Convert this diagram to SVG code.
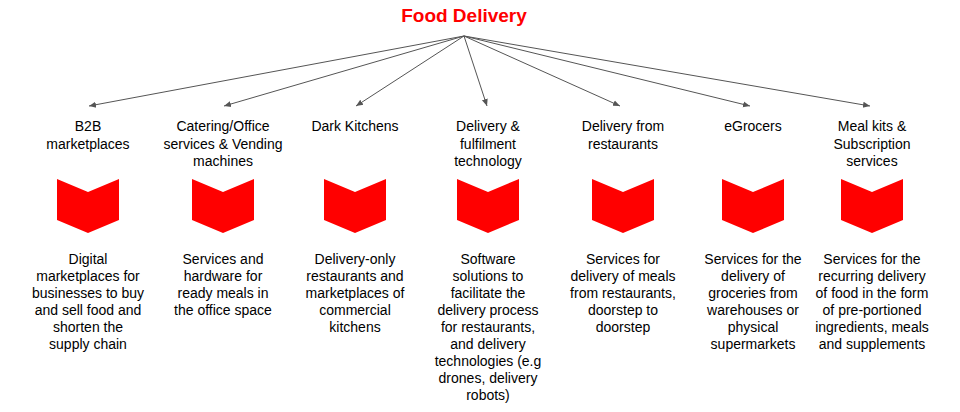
<svg xmlns="http://www.w3.org/2000/svg" width="960" height="412" viewBox="0 0 960 412">
<defs>
<style>
text{font-family:"Liberation Sans",Arial,sans-serif;font-size:14px;fill:#000;text-anchor:middle}
.t{font-size:19px;font-weight:bold;fill:#f00}
.c line{stroke:#555;stroke-width:1}
.v{fill:#f00}
</style>
<marker id="a" markerWidth="8" markerHeight="8" refX="7" refY="4" orient="auto" markerUnits="userSpaceOnUse"><path d="M0,1 L7,4 L0,7 Z" fill="#555"/></marker>
<path id="ch" d="M-31,0 L0,13 L31,0 L31,41 L0,54 L-31,41 Z"/>
</defs>
<text class="t" x="464" y="22">Food Delivery</text>
<g class="c" marker-end="url(#a)">
<line x1="464" y1="36" x2="89" y2="106" marker-end="url(#a)"/>
<line x1="464" y1="36" x2="224" y2="106" marker-end="url(#a)"/>
<line x1="464" y1="36" x2="356" y2="106" marker-end="url(#a)"/>
<line x1="464" y1="36" x2="487" y2="106" marker-end="url(#a)"/>
<line x1="464" y1="36" x2="620" y2="106" marker-end="url(#a)"/>
<line x1="464" y1="36" x2="750" y2="106" marker-end="url(#a)"/>
<line x1="464" y1="36" x2="870" y2="106" marker-end="url(#a)"/>
</g>
<g id="n1"><text x="88" y="131">B2B<tspan x="88" dy="17.5">marketplaces</tspan></text><use href="#ch" x="88" y="179" class="v"/>
<text x="88" y="264">Digital<tspan x="88" dy="17">marketplaces for</tspan><tspan x="88" dy="17">businesses to buy</tspan><tspan x="88" dy="17">and sell food and</tspan><tspan x="88" dy="17">shorten the</tspan><tspan x="88" dy="17">supply chain</tspan></text></g>
<g id="n2"><text x="223" y="131">Catering/Office<tspan x="223" dy="17.5">services &amp; Vending</tspan><tspan x="223" dy="17.5">machines</tspan></text><use href="#ch" x="223" y="179" class="v"/>
<text x="223" y="264">Services and<tspan x="223" dy="17">hardware for</tspan><tspan x="223" dy="17">ready meals in</tspan><tspan x="223" dy="17">the office space</tspan></text></g>
<g id="n3"><text x="355" y="131">Dark Kitchens</text><use href="#ch" x="355" y="179" class="v"/>
<text x="355" y="264">Delivery-only<tspan x="355" dy="17">restaurants and</tspan><tspan x="355" dy="17">marketplaces of</tspan><tspan x="355" dy="17">commercial</tspan><tspan x="355" dy="17">kitchens</tspan></text></g>
<g id="n4"><text x="488" y="131">Delivery &amp;<tspan x="488" dy="17.5">fulfilment</tspan><tspan x="488" dy="17.5">technology</tspan></text><use href="#ch" x="488" y="179" class="v"/>
<text x="488" y="264">Software<tspan x="488" dy="17">solutions to</tspan><tspan x="488" dy="17">facilitate the</tspan><tspan x="488" dy="17">delivery process</tspan><tspan x="488" dy="17">for restaurants,</tspan><tspan x="488" dy="17">and delivery</tspan><tspan x="488" dy="17">technologies (e.g</tspan><tspan x="488" dy="17">drones, delivery</tspan><tspan x="488" dy="17">robots)</tspan></text></g>
<g id="n5"><text x="623" y="131">Delivery from<tspan x="623" dy="17.5">restaurants</tspan></text><use href="#ch" x="623" y="179" class="v"/>
<text x="623" y="264">Services for<tspan x="623" dy="17">delivery of meals</tspan><tspan x="623" dy="17">from restaurants,</tspan><tspan x="623" dy="17">doorstep to</tspan><tspan x="623" dy="17">doorstep</tspan></text></g>
<g id="n6"><text x="753" y="131">eGrocers</text><use href="#ch" x="753" y="179" class="v"/>
<text x="753" y="264">Services for the<tspan x="753" dy="17">delivery of</tspan><tspan x="753" dy="17">groceries from</tspan><tspan x="753" dy="17">warehouses or</tspan><tspan x="753" dy="17">physical</tspan><tspan x="753" dy="17">supermarkets</tspan></text></g>
<g id="n7"><text x="872" y="131">Meal kits &amp;<tspan x="872" dy="17.5">Subscription</tspan><tspan x="872" dy="17.5">services</tspan></text><use href="#ch" x="872" y="179" class="v"/>
<text x="872" y="264">Services for the<tspan x="872" dy="17">recurring delivery</tspan><tspan x="872" dy="17">of food in the form</tspan><tspan x="872" dy="17">of pre-portioned</tspan><tspan x="872" dy="17">ingredients, meals</tspan><tspan x="872" dy="17">and supplements</tspan></text></g>
</svg>
